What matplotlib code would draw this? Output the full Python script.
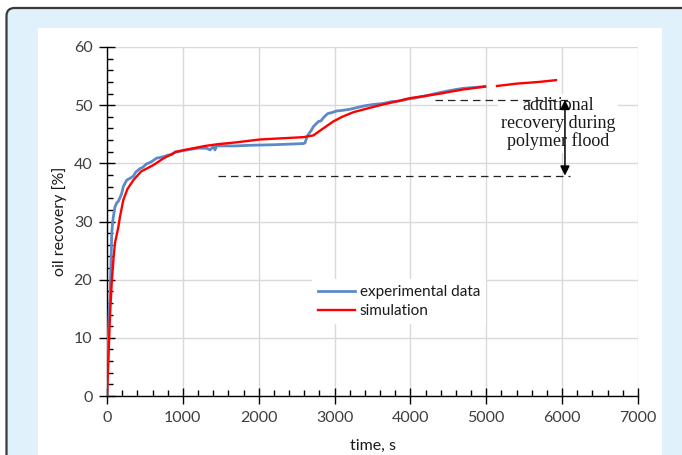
import numpy as np
import matplotlib
matplotlib.use("Agg")
import matplotlib.pyplot as plt
from matplotlib.patches import FancyBboxPatch, Rectangle
from matplotlib.transforms import IdentityTransform

# experimental data (time [s], oil recovery [%])
exp_t = [0, 10, 18, 30, 40, 55, 62, 80, 105, 128, 150, 175, 193, 215, 259, 300, 347, 380, 435,
         470, 520, 560, 600, 655, 700, 760, 800, 850, 900, 940, 1000, 1100, 1200, 1314, 1358,
         1402, 1424, 1446, 1500, 1700, 1885, 2200, 2400, 2588, 2610, 2630, 2654, 2690, 2720,
         2764, 2790, 2820, 2850, 2896, 2918, 2960, 3028, 3100, 3203, 3300, 3400, 3500, 3643,
         3750, 3850, 3950, 4082, 4200, 4300, 4400, 4521, 4600, 4700, 4800, 4983]
exp_v = [0, 6, 10, 15, 17, 24, 28, 30.5, 32.5, 33.2, 33.5, 34.2, 34.8, 36.0, 37.1, 37.4, 37.8,
         38.5, 39.1, 39.3, 39.9, 40.1, 40.4, 40.9, 41.0, 41.2, 41.4, 41.5, 42.0, 42.0, 42.2,
         42.4, 42.6, 42.6, 42.3, 42.9, 42.3, 43.0, 43.0, 43.0, 43.1, 43.2, 43.3, 43.4, 43.5,
         44.3, 45.0, 45.6, 46.3, 46.9, 47.2, 47.3, 47.8, 48.4, 48.6, 48.7, 49.0, 49.1, 49.3,
         49.6, 49.9, 50.1, 50.3, 50.6, 50.7, 51.0, 51.3, 51.6, 51.9, 52.2, 52.5, 52.7, 52.9,
         53.0, 53.2]

# simulation (gap between the two drawn pieces)
sim_t = [0, 18, 40, 62, 85, 105, 149, 171, 215, 270, 347, 450, 611, 750, 918, 1100, 1300,
         1467, 1700, 2017, 2300, 2588, 2720, 2850, 2983, 3100, 3250, 3423, 3600, 3800, 3994,
         4200, 4400, 4521, 4700, 4983, 5060, 5141, 5400, 5700, 5919]
sim_v = [0, 6.2, 14, 19.4, 23.5, 26.3, 29.0, 30.8, 33.7, 35.6, 37.1, 38.6, 39.7, 40.9, 42.0,
         42.5, 43.0, 43.3, 43.6, 44.1, 44.3, 44.5, 44.8, 46.0, 47.2, 48.0, 48.8, 49.4, 50.0,
         50.6, 51.2, 51.6, 52.0, 52.3, 52.7, 53.2, np.nan, 53.3, 53.7, 54.0, 54.3]

# annotation levels
level_low = 37.9
level_high = 50.9
low_start, high_start, dash_end = 1463, 4324, 6103
arrow_t = 6037

W, H = 682, 455
fig = plt.figure(figsize=(W / 100, H / 100), dpi=100)
fig.patch.set_facecolor("white")

# outer light-blue frame with dark rounded border
frame = FancyBboxPatch((6.5, -30), 720, H - 8 + 30, boxstyle="round,pad=0,rounding_size=8",
                       transform=IdentityTransform(), facecolor="#e0f1fb",
                       edgecolor="#3a3a3a", linewidth=1.6, zorder=-2)
fig.patches.append(frame)
panel = Rectangle((38 / W, 0), (662 - 38) / W, 1 - 28 / H, transform=fig.transFigure,
                  facecolor="white", edgecolor="none", zorder=-1)
fig.patches.append(panel)

ax = fig.add_axes([107 / W, 1 - 396 / H, (638 - 107) / W, (396 - 47) / H])
ax.set_facecolor("none")

font = ["Lato", "DejaVu Sans"]
txtc = "#3f3f3f"

ax.plot(exp_t, exp_v, color="#5b8ac7", lw=2.0, zorder=3, label="experimental data")
ax.plot(sim_t, sim_v, color="#ff0000", lw=1.7, zorder=4, label="simulation")

ax.plot([high_start, dash_end], [level_high, level_high], color="#222222", lw=0.9,
        dashes=(6, 4), zorder=5)
ax.plot([low_start, dash_end], [level_low, level_low], color="#222222", lw=0.9,
        dashes=(6, 4), zorder=5)
ax.annotate("", xy=(arrow_t, level_high), xytext=(arrow_t, level_low),
            arrowprops=dict(arrowstyle="<|-|>", color="black", lw=1.1,
                            mutation_scale=14, shrinkA=0, shrinkB=0), zorder=6)
ax.text(5945, 46.8, "additional\nrecovery during\npolymer flood", ha="center", va="center",
        family=["Liberation Serif", "DejaVu Serif"], fontsize=13, color="#1a1a1a",
        linespacing=1.05, zorder=2.5,
        bbox=dict(facecolor="white", edgecolor="none", boxstyle="square,pad=0.15"))

ax.set_xlim(0, 7000)
ax.set_ylim(0, 60)
ax.set_xticks(np.arange(0, 7001, 1000))
ax.set_yticks(np.arange(0, 61, 10))
ax.set_xticks(np.arange(0, 7001, 200), minor=True)
ax.set_yticks(np.arange(0, 61, 2), minor=True)
ax.set_axisbelow(True)
ax.grid(True, which="major", color="#d9d9d9", lw=1.0)

for s in ["top", "right"]:
    ax.spines[s].set_visible(False)
for s in ["left", "bottom"]:
    ax.spines[s].set_color("black")
    ax.spines[s].set_linewidth(1.0)

ax.tick_params(which="major", direction="inout", length=11, width=1.0, colors="black",
               labelcolor=txtc, labelsize=11.5, pad=5)
ax.tick_params(which="minor", direction="in", length=4, width=1.0, colors="black")
for lab in ax.get_xticklabels() + ax.get_yticklabels():
    lab.set_family(font)

ax.set_xlabel("time, s", family=font, fontsize=11.5, color="#1a1a1a", labelpad=10)
ax.set_ylabel("oil recovery [%]", family=font, fontsize=11.5, color="#1a1a1a", labelpad=5)

leg = ax.legend(loc="center left", bbox_to_anchor=(0.372, 0.27), frameon=True,
                prop={"family": font, "size": 11}, handlelength=2.4, handletextpad=0.3,
                labelspacing=0.3, borderpad=0.4, fancybox=False)
leg.get_frame().set_facecolor("white")
leg.get_frame().set_edgecolor("none")
leg.get_frame().set_alpha(1)
for t in leg.get_texts():
    t.set_color("#1a1a1a")

fig.savefig("out.png", dpi=100)
